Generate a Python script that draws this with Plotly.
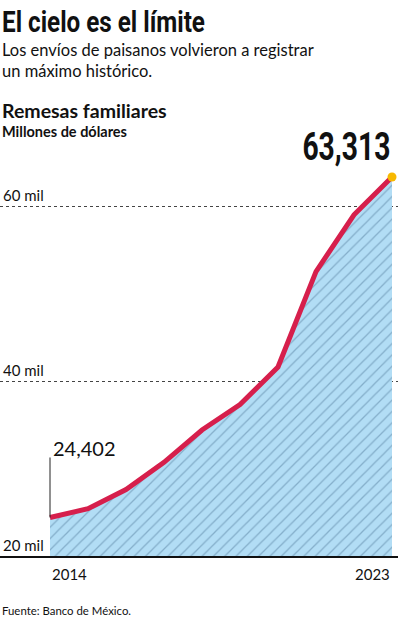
import plotly.graph_objects as go

# ---- data ----
years = [2014, 2015, 2016, 2017, 2018, 2019, 2020, 2021, 2022, 2023]
remesas = [24402, 25400, 27600, 30700, 34400, 37300, 41600, 52500, 59000, 63313]
y_tickvals = [20000, 40000, 60000]
y_ticktext = ["20 mil", "40 mil", "60 mil"]
x_labels = ["2014", "2023"]

title = "El cielo es el límite"
subtitle = "Los envíos de paisanos volvieron a registrar<br>un máximo histórico."
chart_title = "Remesas familiares"
units = "Millones de dólares"
source = "Fuente: Banco de México."

W, H = 398, 620
PLOT_TOP, PLOT_BOT = 170, 556


def py(p):
    """pixel y -> paper y"""
    return (PLOT_BOT - p) / (PLOT_BOT - PLOT_TOP)


SANS = "Lato, 'Open Sans', sans-serif"
COND = "Roboto, 'Liberation Sans', sans-serif"

fig = go.Figure()

# hatched area
fig.add_trace(go.Scatter(
    x=years, y=remesas, mode="lines", fill="tozeroy",
    line=dict(width=0, color="rgba(0,0,0,0)"),
    fillcolor="#b2ddf5",
    fillpattern=dict(shape="/", size=8, solidity=0.16,
                     fgcolor="#55809f", bgcolor="#b2ddf5"),
    hoverinfo="skip", showlegend=False,
))
# red line
fig.add_trace(go.Scatter(
    x=years, y=remesas, mode="lines",
    line=dict(width=5, color="#d61f4c"),
    showlegend=False, cliponaxis=False,
))
# end dot
fig.add_trace(go.Scatter(
    x=[years[-1]], y=[remesas[-1]], mode="markers",
    marker=dict(size=9, color="#f7b800", line=dict(width=0)),
    showlegend=False, cliponaxis=False,
))

# range so that 2014 -> x=50, 2023 -> x=392
ppy = (392 - 50) / (years[-1] - years[0])
x0 = years[0] - 50 / ppy
x1 = years[-1] + (W - 392) / ppy
ypp = (380 - 205) / (y_tickvals[2] - y_tickvals[1])  # px per unit
y_top = y_tickvals[0] + (PLOT_BOT - PLOT_TOP) / ypp

fig.update_xaxes(range=[x0, x1], showgrid=False, zeroline=False,
                 showticklabels=False, showline=True, linecolor="#111",
                 linewidth=1.5, ticks="")
fig.update_yaxes(range=[y_tickvals[0], y_top], tickvals=y_tickvals,
                 ticktext=y_ticktext, showgrid=True, gridcolor="#444",
                 griddash="dot", gridwidth=1, zeroline=False,
                 ticklabelposition="inside top", ticks="",
                 tickfont=dict(family=SANS, size=15, color="#111"))

ann = []
# 0: title (condensed by post script)
ann.append(dict(text=title, xref="paper", yref="paper", x=0, y=py(2),
                xanchor="left", yanchor="top", showarrow=False,
                font=dict(family=COND, size=30, color="#111", weight="bold")))
# 1: end value (condensed by post script)
ann.append(dict(text=f"{remesas[-1]:,}", x=years[-1], y=remesas[-1], xref="x",
                yref="y", xanchor="right", yanchor="bottom", xshift=0,
                yshift=6, showarrow=False,
                font=dict(family=COND, size=38, color="#111", weight="bold")))
ann.append(dict(text=subtitle, xref="paper", yref="paper", x=0, y=py(38),
                xanchor="left", yanchor="top", showarrow=False, align="left",
                font=dict(family=SANS, size=16.5, color="#111")))
ann.append(dict(text="<b>" + chart_title + "</b>", xref="paper", yref="paper",
                x=0, y=py(97), xanchor="left", yanchor="top", showarrow=False,
                font=dict(family=SANS, size=19.5, color="#111")))
ann.append(dict(text="<b>" + units + "</b>", xref="paper", yref="paper",
                x=0, y=py(121), xanchor="left", yanchor="top", showarrow=False,
                font=dict(family=SANS, size=14.5, color="#111")))
ann.append(dict(text=source, xref="paper", yref="paper", x=0, y=py(602),
                xanchor="left", yanchor="top", showarrow=False,
                font=dict(family=SANS, size=11.4, color="#111")))
# x labels
ann.append(dict(text=x_labels[0], x=years[0], xref="x", yref="paper", y=py(563),
                xanchor="left", yanchor="top", showarrow=False,
                font=dict(family=SANS, size=15, color="#111")))
ann.append(dict(text=x_labels[1], x=years[-1], xref="x", yref="paper", y=py(563),
                xanchor="right", yanchor="top", showarrow=False,
                font=dict(family=SANS, size=15, color="#111")))
# first value label
ann.append(dict(text=f"{remesas[0]:,}", x=years[0], y=remesas[0], xref="x",
                yref="y", xanchor="left", yanchor="bottom", xshift=1,
                yshift=55, showarrow=False,
                font=dict(family=SANS, size=20, color="#111")))

fig.update_layout(
    width=W, height=H,
    margin=dict(l=0, r=0, t=PLOT_TOP, b=H - PLOT_BOT, pad=0),
    paper_bgcolor="white", plot_bgcolor="white",
    annotations=ann,
    shapes=[dict(type="line", xref="x", yref="y", x0=years[0], x1=years[0],
                 ysizemode="pixel", yanchor=remesas[0], y0=0, y1=60,
                 line=dict(color="#222", width=1))],
    showlegend=False,
)

post = """
document.body.style.margin = '0';
var gd = document.getElementById('{plot_id}');
function squeeze(idx, target, anchor) {
  var el = gd.querySelector('.annotation[data-index="' + idx + '"] text.annotation-text');
  if (!el) return;
  var b = el.getBBox();
  if (!b.width) return;
  var s = target / b.width;
  var ax = anchor === 'left' ? b.x : b.x + b.width;
  el.setAttribute('transform', 'translate(' + ax + ',0) scale(' + s + ',1) translate(' + (-ax) + ',0)');
}
squeeze(0, 203, 'left');
squeeze(1, 88, 'right');
"""

fig.write_html("out.html", post_script=post, config={"displayModeBar": False})
